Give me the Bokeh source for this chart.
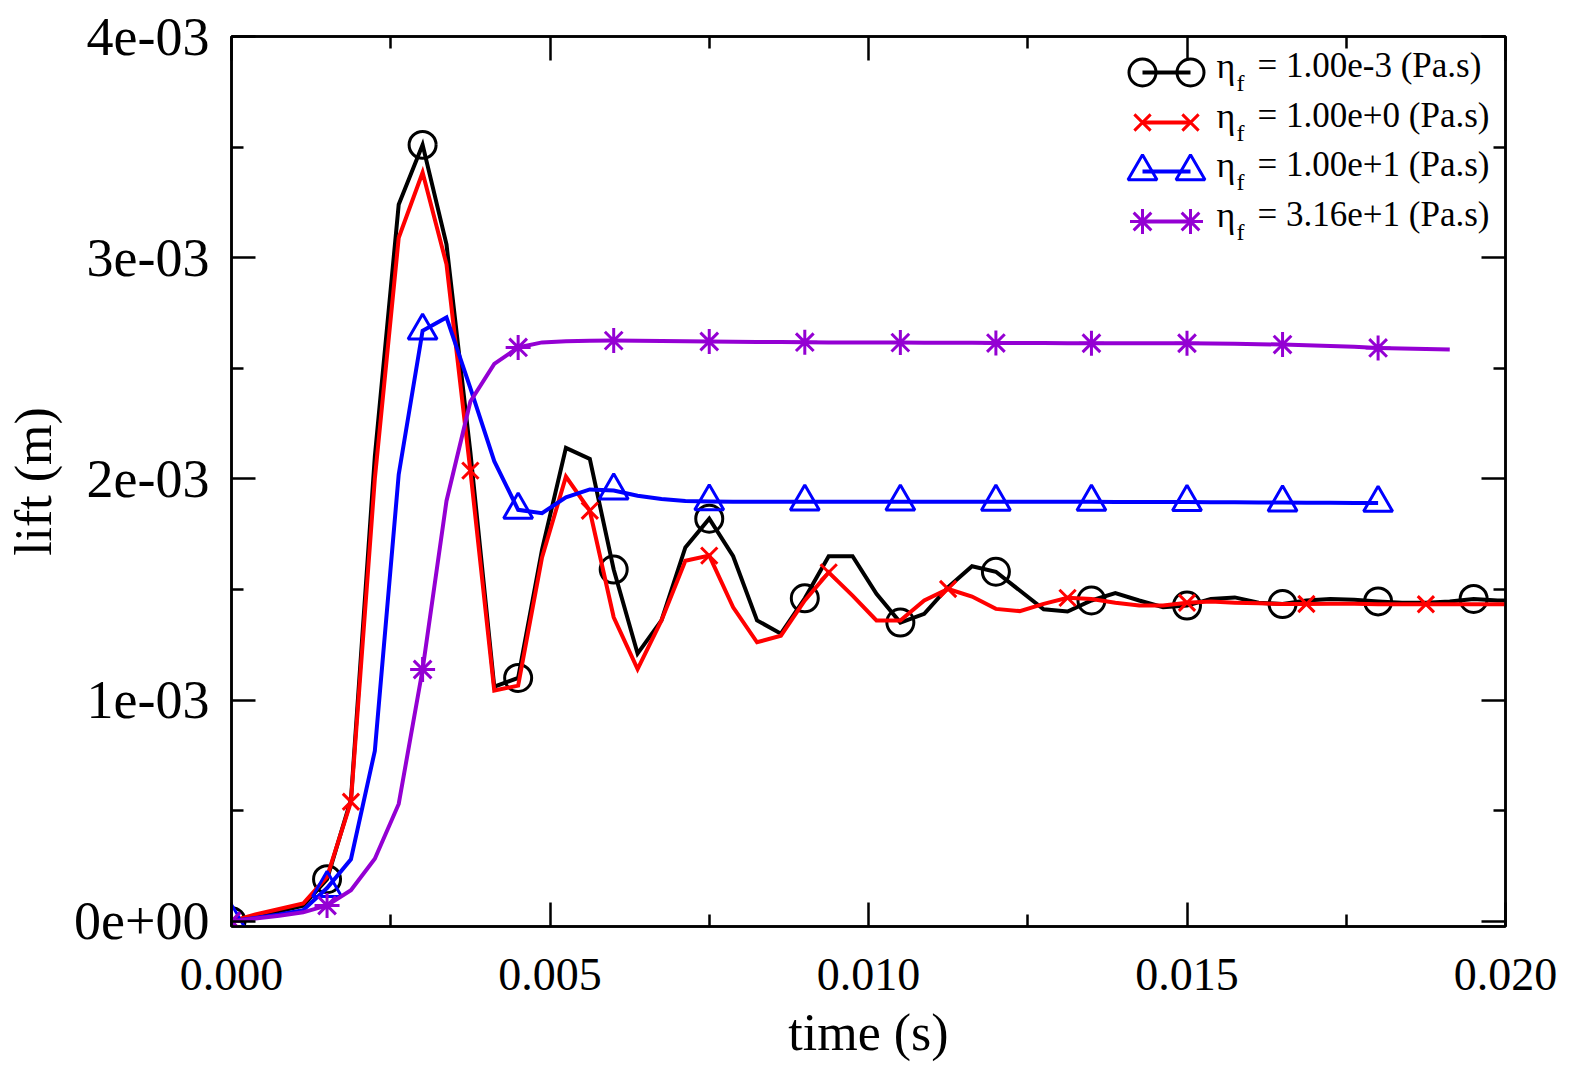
from bokeh.plotting import figure
from bokeh.models import Range1d, LinearAxis, FixedTicker, Label, CustomJSTickFormatter
from bokeh.embed import file_html
from bokeh.resources import INLINE

# ---------------- data (lift in 1e-3 m) ----------------
time_s = [0.0, 0.000375, 0.00075, 0.001125, 0.0015, 0.001875, 0.00225, 0.002625, 0.003, 0.003375,
          0.00375, 0.004125, 0.0045, 0.004875, 0.00525, 0.005625, 0.006, 0.006375, 0.00675, 0.007125,
          0.0075, 0.007875, 0.00825, 0.008625, 0.009, 0.009375, 0.00975, 0.010125, 0.0105, 0.010875,
          0.01125, 0.011625, 0.012, 0.012375, 0.01275, 0.013125, 0.0135, 0.013875, 0.01425, 0.014625,
          0.015, 0.015375, 0.01575, 0.016125, 0.0165, 0.016875, 0.01725, 0.017625, 0.018, 0.018375,
          0.01875, 0.019125, 0.0195, 0.019875, 0.02025]

lift_eta_1e_3 = [0.0, 0.025, 0.045, 0.07, 0.19, 0.55, 2.10, 3.24, 3.51, 3.06,
                 2.12, 1.06, 1.10, 1.68, 2.14, 2.09, 1.59, 1.21, 1.36, 1.69,
                 1.82, 1.65, 1.36, 1.30, 1.46, 1.65, 1.65, 1.48, 1.35, 1.39,
                 1.51, 1.605, 1.58, 1.495, 1.41, 1.40, 1.45, 1.483, 1.45, 1.42,
                 1.427, 1.457, 1.464, 1.44, 1.434, 1.45, 1.457, 1.453, 1.446, 1.44,
                 1.44, 1.445, 1.457, 1.45, 1.45]

lift_eta_1e0 = [0.0, 0.03, 0.055, 0.08, 0.20, 0.54, 2.00, 3.09, 3.385, 2.97,
                2.037, 1.043, 1.065, 1.645, 2.01, 1.856, 1.374, 1.14, 1.36, 1.63,
                1.653, 1.419, 1.261, 1.291, 1.45, 1.577, 1.472, 1.36, 1.359, 1.45,
                1.502, 1.468, 1.412, 1.402, 1.435, 1.462, 1.457, 1.44, 1.427, 1.427,
                1.44, 1.445, 1.44, 1.437, 1.434, 1.434, 1.435, 1.435, 1.433, 1.433,
                1.433, 1.433, 1.433, 1.433, 1.433]

lift_eta_1e1 = [0.0, 0.015, 0.03, 0.05, 0.15, 0.28, 0.77, 2.02, 2.67, 2.73,
                2.41, 2.08, 1.86, 1.845, 1.916, 1.952, 1.947, 1.924, 1.909, 1.90,
                1.898, 1.897, 1.897, 1.897, 1.897, 1.897, 1.897, 1.897, 1.897, 1.896,
                1.896, 1.896, 1.896, 1.896, 1.896, 1.896, 1.896, 1.895, 1.895, 1.895,
                1.895, 1.894, 1.894, 1.893, 1.893, 1.892, 1.892, 1.891, 1.891]

lift_eta_3p16e1 = [0.0, 0.012, 0.025, 0.04, 0.071, 0.14, 0.282, 0.53, 1.138, 1.90,
                   2.35, 2.52, 2.594, 2.617, 2.622, 2.624, 2.625, 2.624, 2.623, 2.622,
                   2.621, 2.620, 2.619, 2.619, 2.618, 2.617, 2.617, 2.616, 2.616, 2.615,
                   2.615, 2.615, 2.614, 2.614, 2.614, 2.613, 2.613, 2.613, 2.613, 2.613,
                   2.613, 2.612, 2.611, 2.609, 2.607, 2.604, 2.601, 2.597, 2.592, 2.589,
                   2.587, 2.585]

series_labels = ["1.00e-3", "1.00e+0", "1.00e+1", "3.16e+1"]
series_colors = ["#000000", "#ff0000", "#0000ff", "#9400d3"]
series_markers = ["circle", "x", "triangle", "asterisk"]
marker_every = [4, 5, 4, 4]

x_ticks = [0.0, 0.005, 0.010, 0.015, 0.020]
x_tick_labels = ["0.000", "0.005", "0.010", "0.015", "0.020"]
x_minor = [0.0025, 0.0075, 0.0125, 0.0175]
y_ticks = [0.0, 0.001, 0.002, 0.003, 0.004]
y_tick_labels = ["0e+00", "1e-03", "2e-03", "3e-03", "4e-03"]
y_minor = [0.0005, 0.0015, 0.0025, 0.0035]

# ---------------- layout constants ----------------
FONT = "Liberation Serif"
XMIN, XMAX = 0.0, 0.020
YMIN, YMAX = -0.000024, 0.004
FX0, FY0, FW, FH = 231, 36, 1274, 890

p = figure(width=1582, height=1065, frame_width=FW, frame_height=FH,
           x_range=Range1d(XMIN, XMAX), y_range=Range1d(YMIN, YMAX),
           output_backend="svg", toolbar_location=None, tools="",
           min_border_left=FX0, min_border_top=FY0, min_border_right=1582 - FX0 - FW,
           min_border_bottom=1065 - FY0 - FH)
p.background_fill_color = "white"
p.border_fill_color = "white"
p.grid.visible = False
p.outline_line_color = "black"
p.outline_line_width = 2.5


def style_axis(ax, show_labels, label_size="50px"):
    ax.axis_line_width = 2.5
    ax.axis_line_color = "black"
    ax.major_tick_in = 24
    ax.major_tick_out = 0
    ax.minor_tick_in = 12
    ax.minor_tick_out = 0
    ax.major_tick_line_width = 2.5
    ax.minor_tick_line_width = 2.5
    ax.major_label_text_font = FONT
    ax.major_label_text_font_size = label_size
    ax.major_label_text_color = "black"
    ax.axis_label_text_font = FONT
    ax.axis_label_text_font_size = "52px"
    ax.axis_label_text_font_style = "normal"
    ax.axis_label_text_color = "black"
    if not show_labels:
        ax.formatter = CustomJSTickFormatter(code="return ''")


xt = FixedTicker(ticks=x_ticks, minor_ticks=x_minor)
yt = FixedTicker(ticks=y_ticks, minor_ticks=y_minor)

xa = p.xaxis[0]
xa.ticker = xt
xa.major_label_overrides = dict(zip(x_ticks, x_tick_labels))
xa.axis_label = "time (s)"
style_axis(xa, True, "46px")
xa.major_label_standoff = 32
xa.axis_label_standoff = 11

ya = p.yaxis[0]
ya.ticker = yt
ya.major_label_overrides = dict(zip(y_ticks, y_tick_labels))
ya.axis_label = "lift (m)"
style_axis(ya, True, "54px")
ya.major_label_standoff = 22
ya.axis_label_standoff = 9

top = LinearAxis(ticker=FixedTicker(ticks=x_ticks, minor_ticks=x_minor))
style_axis(top, False)
p.add_layout(top, "above")
right = LinearAxis(ticker=FixedTicker(ticks=y_ticks, minor_ticks=y_minor))
style_axis(right, False)
p.add_layout(right, "right")

# ---------------- series ----------------
all_lifts = [lift_eta_1e_3, lift_eta_1e0, lift_eta_1e1, lift_eta_3p16e1]
msize = {"circle": 27, "x": 23, "triangle": 29, "asterisk": 25}

for lift, col, mk, every in zip(all_lifts, series_colors, series_markers, marker_every):
    n = len(lift)
    xs = time_s[:n]
    ys = [v * 1e-3 for v in lift]
    p.line(xs, ys, line_color=col, line_width=4, line_join="miter")
    mx = xs[::every]
    my = ys[::every]
    p.scatter(mx, my, marker=mk, size=msize[mk], line_color=col, fill_color=None, line_width=3)


# ---------------- legend (drawn manually to allow subscript) ----------------
def dx(px):
    return XMIN + (px - FX0) / FW * (XMAX - XMIN)


def dy(py):
    return YMAX - (py - FY0) / FH * (YMAX - YMIN)


row_y = [72, 122, 171, 221]
for ry, lab, col, mk in zip(row_y, series_labels, series_colors, series_markers):
    p.line([dx(1142), dx(1190)], [dy(ry), dy(ry)], line_color=col, line_width=4)
    p.scatter([dx(1142), dx(1190)], [dy(ry), dy(ry)], marker=mk, size=msize[mk],
              line_color=col, fill_color=None, line_width=3)
    p.add_layout(Label(x=dx(1216), y=dy(ry - 7), text="η", text_font=FONT, text_font_size="36px",
                       text_baseline="alphabetic", text_align="left", text_color="black"))
    p.add_layout(Label(x=dx(1236), y=dy(ry + 10), text="f", text_font=FONT, text_font_size="24px",
                       text_baseline="alphabetic", text_align="left", text_color="black"))
    p.add_layout(Label(x=dx(1257), y=dy(ry - 7), text="= " + lab + " (Pa.s)", text_font=FONT,
                       text_font_size="35px", text_baseline="alphabetic", text_align="left",
                       text_color="black"))

open("out.html", "w").write(file_html(p, INLINE))
